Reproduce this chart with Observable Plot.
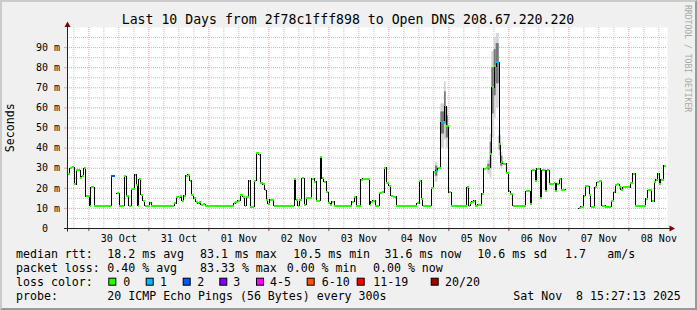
<!DOCTYPE html>
<html><head><meta charset="utf-8">
<script src="https://cdn.jsdelivr.net/npm/d3@7"></script>
<script src="https://cdn.jsdelivr.net/npm/@observablehq/plot@0.6"></script>
<style>
html,body{margin:0;padding:0;background:#f0f0f0;}
#frame{position:absolute;left:0;top:0;width:697px;height:310px;box-sizing:border-box;
  border-top:2px solid #cbcbcb;border-left:2px solid #cbcbcb;border-right:2px solid #999;border-bottom:2px solid #999;background:#f0f0f0;}
#chart{position:absolute;left:0;top:0;width:697px;height:310px;}
#chart svg text{white-space:pre;}
</style></head><body><div id="frame"></div><div id="chart"></div>
<script>
// ---------- data ----------
const titleText = "Last 10 Days from 2f78c1fff898 to Open DNS 208.67.220.220";
const startTime = Date.UTC(2025, 9, 29, 15, 27, 13);
const endTime = Date.UTC(2025, 10, 8, 15, 27, 13);
const originTime = Date.UTC(2025, 9, 30, 0, 0, 0); // hours below are counted from 30 Oct 00:00

// start of each median step (hours since 30 Oct 00:00)
const stepHours = [-8.55,-7.73,-6.8,-5.87,-5.07,-3.47,-2.93,-2.13,-1.33,0.27,0.8,2.13,
 8.93,10.27,11.2,12.13,14.13,14.93,16.0,16.93,18.27,18.93,19.6,20.0,20.8,21.6,22.27,24.27,24.93,
 34.13,34.93,35.87,36.53,37.2,37.87,38.67,39.47,40.27,40.93,41.87,42.67,43.47,44.13,44.8,45.6,46.53,
 57.87,58.53,59.47,60.53,61.47,62.27,62.93,63.87,64.53,66.13,66.93,67.87,68.53,69.47,70.27,70.93,71.6,72.27,73.87,
 78.53,79.87,82.13,82.8,83.47,84.13,85.2,86.13,86.93,89.2,90.13,90.93,92.53,93.2,93.87,94.93,95.73,96.53,97.2,98.13,
 105.2,106.13,106.93,108.8,109.6,112.27,112.8,113.6,114.53,116.13,117.2,118.13,118.93,119.87,120.8,121.6,122.93,
 131.2,132.13,132.93,133.6,136.93,137.87,138.67,139.6,140.8,142.27,142.93,143.87,144.93,
 151.2,151.87,152.53,153.2,153.87,154.53,155.47,157.07,157.87,158.8,159.6,160.53,161.2,162.13,162.93,164.13,164.8,165.6,166.93,167.87,168.53,169.47,
 174.8,176.53,177.2,178.53,179.2,180.53,181.2,182.53,183.2,184.13,185.87,186.53,187.2,188.13,188.93,190.53,
 195.87,196.8,197.87,198.53,200.13,200.8,202.27,203.2,203.87,205.2,206.53,208.93,209.87,210.53,211.2,212.13,212.8,213.6,216.53,217.47,218.53,
 222.8,223.47,225.2,226.13,226.8,227.47,228.13,228.8,229.87];
// median rtt of each step (ms); null = no data
const medianMs = [27,30,30.5,22,29,25,26,30,16,11.3,20.5,11.3,
 26,null,17.5,11.3,26,16,11.3,19.7,26.7,21.7,11.3,24.5,16.7,13.7,11.3,12.8,11.3,
 12.5,15.8,15.3,16.3,13.8,16.3,26.3,26.7,23.7,16.7,15,13.3,12.5,13.3,11.7,12.2,11.3,
 12.5,13.3,13.8,16.7,15.8,11.3,15.8,23.7,10.8,23.7,37.5,36.7,22.5,22,19.2,14.2,12.2,14.2,11.3,
 11,11.3,24.7,14.2,11.3,14.2,25,11.7,15,24.7,23.3,13.8,35.8,25,23.3,18,12.5,11.7,13.3,11.3,
 13.3,15.8,11.3,24.2,24.7,11.7,13.3,13.8,11.3,17.5,18,30.3,22.5,21.3,16.3,15.8,11.3,
 12.5,23.7,14.7,11.3,20,28.3,28.8,30,52.9,60.7,51.2,18,11.3,
 20.5,11.3,12.5,13.3,13.8,11.3,11.7,17.2,29.7,30,30.5,37.2,70.3,80.6,82.7,41.8,33,32.2,27.5,18.6,17.3,11.3,
 18.6,12.3,28.9,23.5,29.7,15.3,28.9,18.9,28.9,21.9,22.5,18.6,22.2,24.7,19.4,null,
 10.1,10.9,16.4,20.9,16.9,10.9,20.5,23,23.5,11.4,10.9,13.6,18,21.4,21.9,20.5,19.4,20.5,22.5,27.2,11.1,
 14.8,19.1,13.6,23,24.2,27.2,22.2,24.2,31.3];
const dataEndHour = 230.8;

// steps with packet loss (hour of step start, lost pings of 20)
const lossHours = [8.93, 138.67, 140.8, 162.93];
const lossCounts = [2, 1, 1, 1];

// smoke (spread of the 20 pings) for the steps where it is visible
const smokeStartH = [138.67,140.8,142.27,142.93,159.6,160.53,161.2,162.13,162.93,164.13,164.8];
const smokeEndH   = [139.6,142.27,142.93,143.87,160.53,161.2,162.13,162.93,164.13,164.8,165.6];
const smokeOuterLo = [23,40,44,40,27,25,45,55,60,36,30];
const smokeOuterHi = [33,62,73,60,34,47,88,95,97,50,38];
const smokeInnerLo = [26,47,52,45,29,30,57,66,72,39,31];
const smokeInnerHi = [31,58,68,56,32,43,80,89,92,46,36];

const lossLabels = ["0","1","2","3","4-5","6-10","11-19","20/20"];
const lossColors = ["#26ff00","#00b8ff","#0059ff","#7e00ff","#ff00ff","#ff5500","#ff0000","#a10000"];

const yMajor = [10,20,30,40,50,60,70,80,90];
const yMinor = [5,15,25,35,45,55,65,75,85,95];
const yTickValues = [0,10,20,30,40,50,60,70,80,90];

const legendRows = [
  [[16,"median rtt:"],[107.3,"18.2 ms avg"],[200,"83.1 ms max"],[293.3,"10.5 ms min"],[384.5,"31.6 ms now"],[477.3,"10.6 ms sd"],[565,"1.7"],[607.3,"am/s"]],
  [[16,"packet loss:"],[107.3,"0.40 % avg"],[200,"83.33 % max"],[286.7,"0.00 % min"],[373,"0.00 % now"]],
  [[16,"loss color:"]],
  [[16,"probe:"],[107.3,"20 ICMP Echo Pings (56 Bytes) every 300s"],[513.3,"Sat Nov  8 15:27:13 2025"]]
];
const lossBoxX = [108.3,145.7,182.7,219.3,256,306.7,356.7,430.7];
const lossTextX = [123.3,160,197.3,233.3,270,321.7,373.3,445];

// ---------- build ----------
const t2d = h => new Date(originTime + h * 3600e3);
const lossIndex = n => n <= 3 ? n : n <= 5 ? 4 : n <= 10 ? 5 : n <= 19 ? 6 : 7;
const segs = stepHours.map((h, i) => {
  const li = lossHours.indexOf(h);
  return {
    start: i === 0 ? new Date(startTime) : t2d(h),
    end: t2d(i < stepHours.length - 1 ? stepHours[i + 1] : dataEndHour),
    v: medianMs[i],
    loss: li >= 0 ? lossCounts[li] : 0
  };
});
const linePts = [];
for (const s of segs) {
  if (s.v == null) linePts.push({t: s.start, v: NaN});
  else { linePts.push({t: s.start, v: s.v}); linePts.push({t: s.end, v: s.v}); }
}
const smoke = smokeStartH.map((h, i) => ({
  start: t2d(h), end: t2d(smokeEndH[i]),
  olo: smokeOuterLo[i], ohi: smokeOuterHi[i], ilo: smokeInnerLo[i], ihi: smokeInnerHi[i]
}));

const d0 = new Date(startTime), d1 = new Date(endTime);
const sixHours = d3.utcHour.every(6).range(d0, d1);
const xMajor = sixHours.filter(d => d.getUTCHours() === 0);
const xMinor = sixHours.filter(d => d.getUTCHours() !== 0);
const xLabelTicks = sixHours.filter(d => d.getUTCHours() === 12);

const gridGray = "#c4c4c4", gridRed = "#eaa0a0";
const plot = Plot.plot({
  width: 697, height: 310,
  marginLeft: 67, marginRight: 30, marginTop: 27, marginBottom: 82,
  style: {background: "transparent", fontFamily: "DejaVu Sans Mono", fontSize: "10px", color: "#000", overflow: "visible"},
  x: {type: "utc", domain: [d0, d1]},
  y: {domain: [0, 100]},
  marks: [
    Plot.frame({fill: "#fff", stroke: null}),
    Plot.ruleY(yMinor, {stroke: gridGray, strokeDasharray: "1,1"}),
    Plot.ruleX(xMinor, {stroke: gridGray, strokeDasharray: "1,1"}),
    Plot.ruleY(yMajor, {stroke: gridRed, strokeDasharray: "1,1"}),
    Plot.ruleX(xMajor, {stroke: gridRed, strokeDasharray: "1,1"}),
    Plot.rect(smoke, {x1: "start", x2: "end", y1: "olo", y2: "ohi", fill: "#d4d4d4"}),
    Plot.rect(smoke, {x1: "start", x2: "end", y1: "ilo", y2: "ihi", fill: "#777"}),
    Plot.line(linePts, {x: "t", y: "v", stroke: "#000", strokeWidth: 1, shapeRendering: "crispEdges"}),
    Plot.link(segs.filter(d => d.v != null), {x1: "start", x2: "end", y1: "v", y2: "v",
      stroke: d => lossColors[lossIndex(d.loss)], strokeWidth: 2, shapeRendering: "crispEdges"}),
    Plot.axisY(yMajor, {tickFormat: () => "", tickSize: 3, stroke: gridRed, label: null}),
    Plot.axisY(yTickValues, {tickFormat: d => d === 0 ? "0\u00a0\u00a0" : d + " m", tickSize: 0, tickPadding: 7.5,
      fontSize: 10, label: null}),
    Plot.axisX(xLabelTicks, {tickFormat: d3.utcFormat("%d %b"), tickSize: 0, tickPadding: 6, fontSize: 10, label: null}),
    Plot.axisX(xMajor, {tickFormat: () => "", tickSize: 3, stroke: "#555", label: null})
  ]
});
document.getElementById("chart").appendChild(plot);

// axis lines, arrows and texts placed via the plot scales
const svg = d3.select(plot);
const xs = plot.scale("x"), ys = plot.scale("y");
const xa = xs.apply(d0) + 0.5, xb = xs.apply(d1);
const yb = ys.apply(0) + 0.5, yt = ys.apply(100);
svg.append("line").attr("x1", xa - 3.5).attr("x2", xb + 3).attr("y1", yb).attr("y2", yb).attr("stroke", "#222");
svg.append("line").attr("x1", xa).attr("x2", xa).attr("y1", yt - 4).attr("y2", yb + 3).attr("stroke", "#222");
svg.append("path").attr("d", `M${xa - 3},${yt} L${xa},${yt - 5.5} L${xa + 3},${yt} Z`).attr("fill", "#800000");
svg.append("path").attr("d", `M${xb + 2.5},${yb - 3} L${xb + 8},${yb} L${xb + 2.5},${yb + 3} Z`).attr("fill", "#800000");

const mono = "DejaVu Sans Mono";
const addText = (x, y, s, size, opts = {}) => {
  const t = svg.append("text").attr("x", x).attr("y", y).attr("font-family", mono)
    .attr("font-size", size).attr("fill", opts.fill || "#000")
    .attr("text-anchor", opts.anchor || "start").attr("xml:space", "preserve").text(s);
  if (opts.transform) t.attr("transform", opts.transform).attr("x", 0).attr("y", 0);
  return t;
};
addText(348, 24, titleText, 13.2, {anchor: "middle"});
addText(0, 0, "Seconds", 11.6, {anchor: "middle", transform: `translate(14,${(yt + yb) / 2}) rotate(-90)`});
addText(0, 0, "RRDTOOL / TOBI OETIKER", 8.1, {fill: "#a8a8a8", transform: "translate(684.5,5) rotate(90)"});

const rowBase = [257.5, 271.5, 285.5, 299.5];
legendRows.forEach((row, r) => row.forEach(([x, s]) => addText(x, rowBase[r], s, 11.6)));
lossLabels.forEach((lab, i) => {
  svg.append("rect").attr("x", lossBoxX[i] + 0.5).attr("y", 278.2).attr("width", 7).attr("height", 7)
    .attr("fill", lossColors[i]).attr("stroke", "#000").attr("stroke-width", 1);
  addText(lossTextX[i], rowBase[2], lab, 11.6);
});
</script></body></html>
